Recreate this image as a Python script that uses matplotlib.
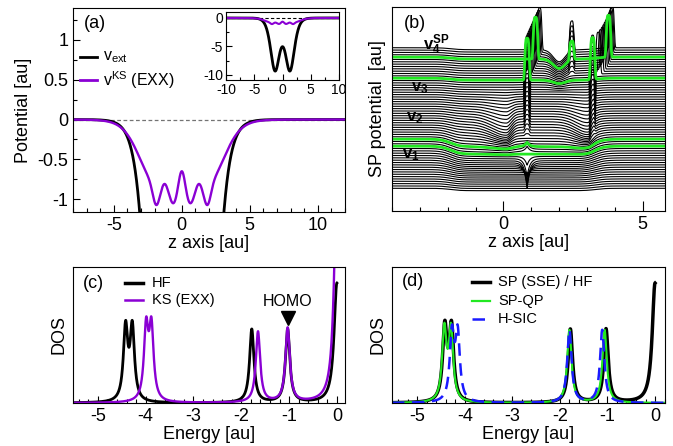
import numpy as np
import matplotlib
matplotlib.use("Agg")
import matplotlib.pyplot as plt
from matplotlib.ticker import MultipleLocator, FormatStrFormatter
from matplotlib.lines import Line2D

plt.rcParams["font.family"] = ["Liberation Sans", "DejaVu Sans"]
plt.rcParams["axes.unicode_minus"] = False
plt.rcParams["mathtext.fontset"] = "custom"
plt.rcParams["mathtext.rm"] = "Liberation Sans"
plt.rcParams["mathtext.it"] = "Liberation Sans:italic"
plt.rcParams["mathtext.bf"] = "Liberation Sans:bold"

PURPLE = "#8a00d4"
GREEN = "#22e822"
BLUE = "#1a1aff"

# -----------------------------
# (a) model potentials
# -----------------------------
ext_well_centers = [-1.32, 1.32]
ext_well_depth = 9.1
ext_well_width = 1.05

ks_well_depth = 1.0
ks_wall_pos = 3.05
ks_wall_width = 1.3
ks_ripple_pos = [-1.9, -1.25, -0.62, 0.0, 0.62, 1.25, 1.9]
ks_ripple_amp = [0.22, -0.14, 0.093, -0.34, 0.093, -0.14, 0.22]
ks_ripple_width = 0.24

# -----------------------------
# (b) stack of SP potentials
# -----------------------------
n_sp_lines = 61
sp_bottom = 22.7
sp_step = 2.343
sp_green_idx = [18, 21, 47, 56]
sp_labels = [r"$\mathbf{v}_\mathbf{1}$", r"$\mathbf{v}_\mathbf{2}$",
             r"$\mathbf{v}_\mathbf{3}$", r"$\mathbf{v}_\mathbf{4}^\mathbf{SP}$"]
sp_label_pos = [(-3.65, 56), (-3.48, 93), (-3.33, 123), (-2.9, 166)]

# -----------------------------
# (c), (d) DOS peaks (energy, height)
# -----------------------------
hf_E = [-4.42, -4.28, -1.78, -1.03]
hf_h = [0.535, 0.535, 0.54, 0.54]
ks_E = [-3.99, -3.88, -1.65, -1.03]
ks_h = [0.527, 0.527, 0.52, 0.545]
qp_E = [-4.43, -4.29, -1.80, -1.06]
qp_h = [0.52, 0.52, 0.535, 0.535]
hsic_E = [-4.27, -4.15, -1.80, -1.11]
hsic_h = [0.49, 0.49, 0.535, 0.535]
hf_edge_h = 0.88
ks_edge_h = 1.6
dos_gamma = 0.055
edge_gamma = 0.07


def lor(E, E0, h, g):
    return h * g ** 2 / ((E - E0) ** 2 + g ** 2)


def dos(E, centers, heights, g=dos_gamma):
    out = np.zeros_like(E)
    for c, h in zip(centers, heights):
        out += lor(E, c, h, g)
    return out


def sech2(x):
    return 1.0 / np.cosh(x) ** 2


def v_ext(z):
    return -ext_well_depth * sum(sech2((z - c) / ext_well_width) for c in ext_well_centers)


def v_ks(z):
    well = ks_well_depth * 0.5 * (np.tanh((z + ks_wall_pos) / ks_wall_width)
                                  - np.tanh((z - ks_wall_pos) / ks_wall_width))
    rip = sum(a * np.exp(-((z - p) / ks_ripple_width) ** 2 / 2)
              for p, a in zip(ks_ripple_pos, ks_ripple_amp))
    return -(well + rip)


def spike(z, p, w=0.09):
    return np.exp(-((z - p) / w) ** 4)


def skew_dip(z, p, wl, wr):
    # slow ramp down from the left, sharp rise on the right
    w = np.where(z < p, wl, wr)
    return np.exp(-((z - p) / w) ** 2)


def sp_shape(z, f):
    y = np.zeros_like(z)
    D = 2 + 6 * np.exp(-((f - 0.3) / 0.18) ** 2)
    y -= D * 0.5 * (np.tanh((z + 1.9) / 0.35) - np.tanh((z - 3.3) / 0.35))
    c = -26 * np.exp(-((f - 0.24) / 0.05) ** 2) + 8 * np.exp(-((f - 0.32) / 0.04) ** 2)
    y += c * np.exp(-np.abs(z - 0.85) / 0.1)
    m = np.exp(-((f - 0.5) / 0.12) ** 2)
    y -= 11 * m * (skew_dip(z, 0.1, 0.7, 0.25) + skew_dip(z, 3.05, 0.6, 0.2))
    s = np.clip((f - 0.8) / 0.2, 0, 1)
    pL = 0.85 + 0.45 * s
    pR = 3.2 + 0.7 * np.sqrt(s)
    H = 42 * np.clip((f - 0.4) / 0.35, 0, 1)
    y += H * spike(z, pL) + H * spike(z, pR)
    Hc = 30 * np.clip((f - 0.82) / 0.18, 0, 1)
    y += Hc * spike(z, 2.45)
    u = np.clip((f - 0.7) / 0.3, 0, 1)
    y -= 12 * u * np.exp(-((z - 2.0) / 0.3) ** 2)
    return y


def style_ticks(ax):
    ax.tick_params(which="both", direction="in", top=False, right=False, labelsize=13)
    ax.tick_params(which="major", length=5, width=0.8)
    ax.tick_params(which="minor", length=3, width=0.8)


def legend_rows(ax, x0, x1, xt, rows, fs=10.5):
    for y, label, kw in rows:
        ax.add_line(Line2D([x0, x1], [y, y], transform=ax.transAxes, **kw))
        ax.text(xt, y, label, transform=ax.transAxes, va="center", ha="left", fontsize=fs)


fig = plt.figure(figsize=(6.73, 4.46), dpi=100)
W, Hh = 673, 446


def px_axes(l, t, r, b):
    return fig.add_axes([l / W, 1 - b / Hh, (r - l) / W, (b - t) / Hh])


# ---------- (a)
axa = px_axes(73, 8, 345, 212)
z = np.linspace(-8, 12, 3000)
axa.axhline(0, color="0.45", ls=(0, (3, 2)), lw=0.9)
axa.plot(z, v_ext(z), color="black", lw=2)
axa.plot(z, v_ks(z), color=PURPLE, lw=1.7)
axa.set_xlim(-8, 12)
axa.set_ylim(-1.16, 1.4)
axa.xaxis.set_major_locator(MultipleLocator(5))
axa.xaxis.set_minor_locator(MultipleLocator(1))
axa.yaxis.set_major_locator(MultipleLocator(0.5))
axa.yaxis.set_minor_locator(MultipleLocator(0.25))
axa.yaxis.set_major_formatter(FormatStrFormatter("%g"))
style_ticks(axa)
axa.set_ylabel("Potential [au]", fontsize=13)
axa.set_xlabel("z axis [au]", fontsize=13, labelpad=1)
axa.text(0.081, 0.926, "(a)", transform=axa.transAxes, fontsize=13, ha="center", va="center")
legend_rows(axa, 0.026, 0.088, 0.11, [
    (0.76, r"v$_{\rm ext}$", dict(color="black", lw=2)),
    (0.647, r"v$^{\rm KS}$ (EXX)", dict(color=PURPLE, lw=2)),
], fs=11.5)

# inset
axi = px_axes(226, 12, 339, 80)
zi = np.linspace(-10, 10, 2000)
axi.axhline(0, color="black", ls=(0, (3, 2)), lw=0.8)
axi.plot(zi, v_ext(zi), color="black", lw=2)
axi.plot(zi, v_ks(zi), color=PURPLE, lw=1.5)
axi.set_xlim(-10, 10)
axi.set_ylim(-10.9, 1.05)
axi.xaxis.set_major_locator(MultipleLocator(5))
axi.xaxis.set_minor_locator(MultipleLocator(2.5))
axi.yaxis.set_major_locator(MultipleLocator(5))
axi.yaxis.set_minor_locator(MultipleLocator(2.5))
style_ticks(axi)
axi.tick_params(labelsize=10, pad=2)
axi.tick_params(which="major", length=4)
axi.tick_params(which="minor", length=2.5)

# ---------- (b)
axb = px_axes(392, 7, 665, 211)
zb = np.linspace(-4, 5.8, 2500)
for i in range(n_sp_lines):
    f = i / (n_sp_lines - 1)
    axb.plot(zb, sp_bottom + sp_step * i + sp_shape(zb, f), color="black", lw=0.8)
for i in sp_green_idx:
    f = i / (n_sp_lines - 1)
    axb.plot(zb, sp_bottom + sp_step * i + sp_shape(zb, f), color=GREEN, lw=2)
for (x, y), lab in zip(sp_label_pos, sp_labels):
    axb.text(x, y, lab, fontsize=12, ha="left", va="center")
axb.set_xlim(-4, 5.8)
axb.set_ylim(0, 204)
axb.set_yticks([])
axb.set_xticks([0, 5])
axb.xaxis.set_minor_locator(MultipleLocator(1))
style_ticks(axb)
axb.tick_params(which="major", length=7)
axb.set_ylabel("SP potential  [au]", fontsize=13)
axb.set_xlabel("z axis [au]", fontsize=13, labelpad=1)
axb.text(0.084, 0.92, "(b)", transform=axb.transAxes, fontsize=13, ha="center", va="center")

# ---------- (c)
axc = px_axes(73, 267, 345, 403)
E0 = np.linspace(-5.6, 0.0, 3000)
hf_curve = dos(E0, hf_E, hf_h) + lor(E0, 0.0, hf_edge_h, edge_gamma)
ks_curve = dos(E0, ks_E, ks_h) + lor(E0, 0.0, ks_edge_h, edge_gamma)
axc.plot(E0, hf_curve, color="black", lw=2)
axc.plot(E0, ks_curve, color=PURPLE, lw=1.7)
axc.plot([-1.03], [0.625], marker="v", color="black", ms=10, ls="none")
axc.text(-1.04, 0.745, "HOMO", fontsize=11.5, ha="center", va="center")
axc.set_xlim(-5.52, 0.17)
axc.set_ylim(0, 1)
axc.set_yticks([])
axc.xaxis.set_major_locator(MultipleLocator(1))
axc.xaxis.set_minor_locator(MultipleLocator(0.2))
axc.xaxis.set_major_formatter(FormatStrFormatter("%g"))
style_ticks(axc)
axc.set_ylabel("DOS", fontsize=13)
axc.set_xlabel("Energy [au]", fontsize=13, labelpad=1)
axc.text(0.074, 0.882, "(c)", transform=axc.transAxes, fontsize=13, ha="center", va="center")
legend_rows(axc, 0.191, 0.257, 0.29, [
    (0.885, "HF", dict(color="black", lw=2.5)),
    (0.757, "KS (EXX)", dict(color=PURPLE, lw=1.8)),
])

# ---------- (d)
axd = px_axes(392, 267, 665, 403)
E1 = np.linspace(-5.6, 0.25, 3000)
sp_curve = dos(E0, hf_E, hf_h) + lor(E0, 0.0, hf_edge_h, edge_gamma)
axd.plot(E0, sp_curve, color="black", lw=2.5)
axd.plot(E1, dos(E1, qp_E, qp_h), color=GREEN, lw=1.5)
axd.plot(E1, dos(E1, hsic_E, hsic_h), color=BLUE, lw=1.8, ls=(0, (5, 3)))
axd.set_xlim(-5.53, 0.21)
axd.set_ylim(0, 1)
axd.set_yticks([])
axd.xaxis.set_major_locator(MultipleLocator(1))
axd.xaxis.set_minor_locator(MultipleLocator(0.2))
axd.xaxis.set_major_formatter(FormatStrFormatter("%g"))
style_ticks(axd)
axd.set_ylabel("DOS", fontsize=13)
axd.set_xlabel("Energy [au]", fontsize=13, labelpad=1)
axd.text(0.077, 0.89, "(d)", transform=axd.transAxes, fontsize=13, ha="center", va="center")
legend_rows(axd, 0.293, 0.359, 0.388, [
    (0.89, "SP (SSE) / HF", dict(color="black", lw=2.5)),
    (0.75, "SP-QP", dict(color=GREEN, lw=1.6)),
    (0.618, "H-SIC", dict(color=BLUE, lw=1.8, ls=(0, (5, 3)))),
])

fig.savefig("out.png", dpi=100)
